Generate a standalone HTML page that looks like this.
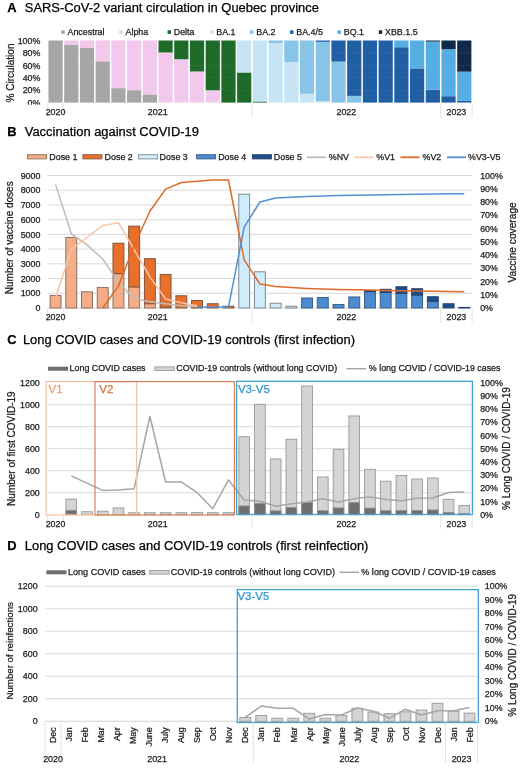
<!DOCTYPE html>
<html><head><meta charset="utf-8"><style>
html,body{margin:0;padding:0;background:#fff;}
body{width:520px;height:768px;overflow:hidden;}
svg{display:block;will-change:transform;font-family:"Liberation Sans", sans-serif;}
</style></head><body>
<svg width="520" height="768" viewBox="0 0 520 768">
<rect width="520" height="768" fill="#fff"/>
<text x="7.20" y="12.10" font-size="12.92" fill="#000" stroke="#000" stroke-width="0.25" font-weight="bold">A</text>
<text x="24.80" y="12.10" font-size="12.92" fill="#000" stroke="#000" stroke-width="0.25">SARS-CoV-2 variant circulation in Quebec province</text>
<rect x="61.30" y="30.30" width="3.40" height="3.60" fill="#a6a6a6"/>
<text x="67.50" y="35.29" font-size="8.9" fill="#1a1a1a" stroke="#1a1a1a" stroke-width="0.25">Ancestral</text>
<rect x="119.30" y="30.30" width="3.40" height="3.60" fill="#f2c8ec"/>
<text x="125.50" y="35.29" font-size="8.9" fill="#1a1a1a" stroke="#1a1a1a" stroke-width="0.25">Alpha</text>
<rect x="167.55" y="30.30" width="3.40" height="3.60" fill="#1d6a29"/>
<text x="173.75" y="35.29" font-size="8.9" fill="#1a1a1a" stroke="#1a1a1a" stroke-width="0.25">Delta</text>
<rect x="210.05" y="30.30" width="3.40" height="3.60" fill="#c7e4f5"/>
<text x="216.25" y="35.29" font-size="8.9" fill="#1a1a1a" stroke="#1a1a1a" stroke-width="0.25">BA.1</text>
<rect x="250.05" y="30.30" width="3.40" height="3.60" fill="#88c4e8"/>
<text x="256.25" y="35.29" font-size="8.9" fill="#1a1a1a" stroke="#1a1a1a" stroke-width="0.25">BA.2</text>
<rect x="290.05" y="30.30" width="3.40" height="3.60" fill="#205fa4"/>
<text x="296.25" y="35.29" font-size="8.9" fill="#1a1a1a" stroke="#1a1a1a" stroke-width="0.25">BA.4/5</text>
<rect x="337.55" y="30.30" width="3.40" height="3.60" fill="#54aee3"/>
<text x="343.75" y="35.29" font-size="8.9" fill="#1a1a1a" stroke="#1a1a1a" stroke-width="0.25">BQ.1</text>
<rect x="378.80" y="30.30" width="3.40" height="3.60" fill="#112a4b"/>
<text x="385.00" y="35.29" font-size="8.9" fill="#1a1a1a" stroke="#1a1a1a" stroke-width="0.25">XBB.1.5</text>
<text x="40.40" y="43.69" font-size="8.9" text-anchor="end" fill="#1a1a1a" stroke="#1a1a1a" stroke-width="0.25">100%</text>
<text x="40.40" y="56.11" font-size="8.9" text-anchor="end" fill="#1a1a1a" stroke="#1a1a1a" stroke-width="0.25">80%</text>
<text x="40.40" y="68.53" font-size="8.9" text-anchor="end" fill="#1a1a1a" stroke="#1a1a1a" stroke-width="0.25">60%</text>
<text x="40.40" y="80.95" font-size="8.9" text-anchor="end" fill="#1a1a1a" stroke="#1a1a1a" stroke-width="0.25">40%</text>
<text x="40.40" y="93.37" font-size="8.9" text-anchor="end" fill="#1a1a1a" stroke="#1a1a1a" stroke-width="0.25">20%</text>
<text x="40.40" y="105.79" font-size="8.9" text-anchor="end" fill="#1a1a1a" stroke="#1a1a1a" stroke-width="0.25">0%</text>
<text font-size="10" text-anchor="middle" fill="#1a1a1a" stroke="#1a1a1a" stroke-width="0.25" transform="translate(13.78,73.00) rotate(-90)">% Circulation</text>
<rect x="48.46" y="40.50" width="14.20" height="62.10" fill="#a6a6a6"/>
<rect x="64.18" y="44.97" width="14.20" height="57.63" fill="#a6a6a6"/>
<rect x="64.18" y="40.50" width="14.20" height="4.47" fill="#f2c8ec"/>
<rect x="79.90" y="48.01" width="14.20" height="54.59" fill="#a6a6a6"/>
<rect x="79.90" y="40.50" width="14.20" height="7.51" fill="#f2c8ec"/>
<rect x="95.62" y="61.24" width="14.20" height="41.36" fill="#a6a6a6"/>
<rect x="95.62" y="40.50" width="14.20" height="20.74" fill="#f2c8ec"/>
<rect x="111.34" y="88.13" width="14.20" height="14.47" fill="#a6a6a6"/>
<rect x="111.34" y="40.50" width="14.20" height="47.63" fill="#f2c8ec"/>
<rect x="127.06" y="90.18" width="14.20" height="12.42" fill="#a6a6a6"/>
<rect x="127.06" y="40.50" width="14.20" height="49.68" fill="#f2c8ec"/>
<rect x="142.78" y="94.40" width="14.20" height="8.20" fill="#a6a6a6"/>
<rect x="142.78" y="40.50" width="14.20" height="53.90" fill="#f2c8ec"/>
<rect x="158.50" y="52.49" width="14.20" height="50.11" fill="#f2c8ec"/>
<rect x="158.50" y="40.50" width="14.20" height="11.99" fill="#1d6a29"/>
<rect x="174.22" y="59.25" width="14.20" height="43.35" fill="#f2c8ec"/>
<rect x="174.22" y="40.50" width="14.20" height="18.75" fill="#1d6a29"/>
<rect x="189.94" y="71.49" width="14.20" height="31.11" fill="#f2c8ec"/>
<rect x="189.94" y="40.50" width="14.20" height="30.99" fill="#1d6a29"/>
<rect x="205.66" y="90.30" width="14.20" height="12.30" fill="#f2c8ec"/>
<rect x="205.66" y="40.50" width="14.20" height="49.80" fill="#1d6a29"/>
<rect x="221.38" y="40.50" width="14.20" height="62.10" fill="#1d6a29"/>
<rect x="237.10" y="72.48" width="14.20" height="30.12" fill="#1d6a29"/>
<rect x="237.10" y="40.50" width="14.20" height="31.98" fill="#c7e4f5"/>
<rect x="252.82" y="101.48" width="14.20" height="1.12" fill="#1d6a29"/>
<rect x="252.82" y="40.50" width="14.20" height="60.98" fill="#c7e4f5"/>
<rect x="268.54" y="42.98" width="14.20" height="59.62" fill="#c7e4f5"/>
<rect x="268.54" y="40.50" width="14.20" height="2.48" fill="#88c4e8"/>
<rect x="284.26" y="61.92" width="14.20" height="40.68" fill="#c7e4f5"/>
<rect x="284.26" y="40.50" width="14.20" height="21.42" fill="#88c4e8"/>
<rect x="299.98" y="93.78" width="14.20" height="8.82" fill="#c7e4f5"/>
<rect x="299.98" y="40.50" width="14.20" height="53.28" fill="#88c4e8"/>
<rect x="315.70" y="101.23" width="14.20" height="1.37" fill="#c7e4f5"/>
<rect x="315.70" y="41.87" width="14.20" height="59.37" fill="#88c4e8"/>
<rect x="315.70" y="40.50" width="14.20" height="1.37" fill="#205fa4"/>
<rect x="331.42" y="61.61" width="14.20" height="40.99" fill="#88c4e8"/>
<rect x="331.42" y="40.50" width="14.20" height="21.11" fill="#205fa4"/>
<rect x="347.14" y="95.89" width="14.20" height="6.71" fill="#88c4e8"/>
<rect x="347.14" y="40.50" width="14.20" height="55.39" fill="#205fa4"/>
<rect x="362.86" y="40.50" width="14.20" height="62.10" fill="#205fa4"/>
<rect x="378.58" y="40.50" width="14.20" height="62.10" fill="#205fa4"/>
<rect x="394.30" y="47.21" width="14.20" height="55.39" fill="#205fa4"/>
<rect x="394.30" y="40.50" width="14.20" height="6.71" fill="#54aee3"/>
<rect x="410.02" y="68.38" width="14.20" height="34.22" fill="#205fa4"/>
<rect x="410.02" y="40.50" width="14.20" height="27.88" fill="#54aee3"/>
<rect x="425.74" y="89.81" width="14.20" height="12.79" fill="#205fa4"/>
<rect x="425.74" y="41.62" width="14.20" height="48.19" fill="#54aee3"/>
<rect x="425.74" y="40.50" width="14.20" height="1.12" fill="#112a4b"/>
<rect x="441.46" y="96.20" width="14.20" height="6.40" fill="#205fa4"/>
<rect x="441.46" y="49.19" width="14.20" height="47.01" fill="#54aee3"/>
<rect x="441.46" y="40.50" width="14.20" height="8.69" fill="#112a4b"/>
<rect x="457.18" y="100.49" width="14.20" height="2.11" fill="#205fa4"/>
<rect x="457.18" y="71.67" width="14.20" height="28.81" fill="#54aee3"/>
<rect x="457.18" y="40.50" width="14.20" height="31.17" fill="#112a4b"/>
<line x1="47.70" y1="52.92" x2="472.14" y2="52.92" stroke="#ffffff" stroke-opacity="0.08" stroke-width="0.8"/>
<line x1="47.70" y1="65.34" x2="472.14" y2="65.34" stroke="#ffffff" stroke-opacity="0.08" stroke-width="0.8"/>
<line x1="47.70" y1="77.76" x2="472.14" y2="77.76" stroke="#ffffff" stroke-opacity="0.08" stroke-width="0.8"/>
<line x1="47.70" y1="90.18" x2="472.14" y2="90.18" stroke="#ffffff" stroke-opacity="0.08" stroke-width="0.8"/>
<rect x="15.00" y="104.70" width="30.00" height="4.00" fill="#fff"/>
<line x1="47.70" y1="103.10" x2="47.70" y2="117.50" stroke="#dcdcdc" stroke-width="0.8"/>
<line x1="63.42" y1="103.10" x2="63.42" y2="117.50" stroke="#dcdcdc" stroke-width="0.8"/>
<line x1="252.06" y1="103.10" x2="252.06" y2="117.50" stroke="#dcdcdc" stroke-width="0.8"/>
<line x1="440.70" y1="103.10" x2="440.70" y2="117.50" stroke="#dcdcdc" stroke-width="0.8"/>
<line x1="472.14" y1="103.10" x2="472.14" y2="117.50" stroke="#dcdcdc" stroke-width="0.8"/>
<text x="55.56" y="115.19" font-size="8.9" text-anchor="middle" fill="#1a1a1a" stroke="#1a1a1a" stroke-width="0.25">2020</text>
<text x="157.74" y="115.19" font-size="8.9" text-anchor="middle" fill="#1a1a1a" stroke="#1a1a1a" stroke-width="0.25">2021</text>
<text x="346.38" y="115.19" font-size="8.9" text-anchor="middle" fill="#1a1a1a" stroke="#1a1a1a" stroke-width="0.25">2022</text>
<text x="456.42" y="115.19" font-size="8.9" text-anchor="middle" fill="#1a1a1a" stroke="#1a1a1a" stroke-width="0.25">2023</text>
<text x="7.20" y="135.60" font-size="12.92" fill="#000" stroke="#000" stroke-width="0.25" font-weight="bold">B</text>
<text x="24.80" y="135.60" font-size="12.92" fill="#000" stroke="#000" stroke-width="0.25">Vaccination against COVID-19</text>
<rect x="27.60" y="154.70" width="19.00" height="4.20" fill="#f4ad86" stroke="#8e6f62" stroke-width="0.9"/>
<text x="49.30" y="159.79" font-size="8.9" fill="#1a1a1a" stroke="#1a1a1a" stroke-width="0.25">Dose 1</text>
<rect x="82.90" y="154.70" width="19.00" height="4.20" fill="#e8702b" stroke="#86543a" stroke-width="0.9"/>
<text x="104.60" y="159.79" font-size="8.9" fill="#1a1a1a" stroke="#1a1a1a" stroke-width="0.25">Dose 2</text>
<rect x="138.60" y="154.70" width="19.00" height="4.20" fill="#d0ebf9" stroke="#7f8a92" stroke-width="0.9"/>
<text x="159.60" y="159.79" font-size="8.9" fill="#1a1a1a" stroke="#1a1a1a" stroke-width="0.25">Dose 3</text>
<rect x="196.60" y="154.70" width="19.00" height="4.20" fill="#4a8bd2" stroke="#3d5f86" stroke-width="0.9"/>
<text x="218.20" y="159.79" font-size="8.9" fill="#1a1a1a" stroke="#1a1a1a" stroke-width="0.25">Dose 4</text>
<rect x="252.40" y="154.70" width="19.00" height="4.20" fill="#1f4e8c" stroke="#24406a" stroke-width="0.9"/>
<text x="273.80" y="159.79" font-size="8.9" fill="#1a1a1a" stroke="#1a1a1a" stroke-width="0.25">Dose 5</text>
<line x1="307.00" y1="157.30" x2="326.00" y2="157.30" stroke="#bdbdbd" stroke-width="1.8"/>
<text x="328.80" y="159.79" font-size="8.9" fill="#1a1a1a" stroke="#1a1a1a" stroke-width="0.25">%NV</text>
<line x1="354.50" y1="157.30" x2="373.50" y2="157.30" stroke="#f8c6a8" stroke-width="1.8"/>
<text x="376.30" y="159.79" font-size="8.9" fill="#1a1a1a" stroke="#1a1a1a" stroke-width="0.25">%V1</text>
<line x1="400.50" y1="157.30" x2="419.50" y2="157.30" stroke="#e06a2a" stroke-width="1.8"/>
<text x="422.50" y="159.79" font-size="8.9" fill="#1a1a1a" stroke="#1a1a1a" stroke-width="0.25">%V2</text>
<line x1="447.00" y1="157.30" x2="466.00" y2="157.30" stroke="#5190d2" stroke-width="1.8"/>
<text x="468.00" y="159.79" font-size="8.9" fill="#1a1a1a" stroke="#1a1a1a" stroke-width="0.25">%V3-V5</text>
<text x="40.40" y="311.19" font-size="8.9" text-anchor="end" fill="#1a1a1a" stroke="#1a1a1a" stroke-width="0.25">0</text>
<line x1="47.70" y1="293.28" x2="472.14" y2="293.28" stroke="#d9d9d9" stroke-width="1"/>
<text x="40.40" y="296.47" font-size="8.9" text-anchor="end" fill="#1a1a1a" stroke="#1a1a1a" stroke-width="0.25">1000</text>
<line x1="47.70" y1="278.56" x2="472.14" y2="278.56" stroke="#d9d9d9" stroke-width="1"/>
<text x="40.40" y="281.75" font-size="8.9" text-anchor="end" fill="#1a1a1a" stroke="#1a1a1a" stroke-width="0.25">2000</text>
<line x1="47.70" y1="263.84" x2="472.14" y2="263.84" stroke="#d9d9d9" stroke-width="1"/>
<text x="40.40" y="267.03" font-size="8.9" text-anchor="end" fill="#1a1a1a" stroke="#1a1a1a" stroke-width="0.25">3000</text>
<line x1="47.70" y1="249.12" x2="472.14" y2="249.12" stroke="#d9d9d9" stroke-width="1"/>
<text x="40.40" y="252.31" font-size="8.9" text-anchor="end" fill="#1a1a1a" stroke="#1a1a1a" stroke-width="0.25">4000</text>
<line x1="47.70" y1="234.40" x2="472.14" y2="234.40" stroke="#d9d9d9" stroke-width="1"/>
<text x="40.40" y="237.59" font-size="8.9" text-anchor="end" fill="#1a1a1a" stroke="#1a1a1a" stroke-width="0.25">5000</text>
<line x1="47.70" y1="219.68" x2="472.14" y2="219.68" stroke="#d9d9d9" stroke-width="1"/>
<text x="40.40" y="222.87" font-size="8.9" text-anchor="end" fill="#1a1a1a" stroke="#1a1a1a" stroke-width="0.25">6000</text>
<line x1="47.70" y1="204.96" x2="472.14" y2="204.96" stroke="#d9d9d9" stroke-width="1"/>
<text x="40.40" y="208.15" font-size="8.9" text-anchor="end" fill="#1a1a1a" stroke="#1a1a1a" stroke-width="0.25">7000</text>
<line x1="47.70" y1="190.24" x2="472.14" y2="190.24" stroke="#d9d9d9" stroke-width="1"/>
<text x="40.40" y="193.43" font-size="8.9" text-anchor="end" fill="#1a1a1a" stroke="#1a1a1a" stroke-width="0.25">8000</text>
<line x1="47.70" y1="175.52" x2="472.14" y2="175.52" stroke="#d9d9d9" stroke-width="1"/>
<text x="40.40" y="178.71" font-size="8.9" text-anchor="end" fill="#1a1a1a" stroke="#1a1a1a" stroke-width="0.25">9000</text>
<line x1="47.70" y1="308.00" x2="472.14" y2="308.00" stroke="#d9d9d9" stroke-width="1"/>
<text x="480.20" y="311.19" font-size="8.9" fill="#1a1a1a" stroke="#1a1a1a" stroke-width="0.25">0%</text>
<text x="480.20" y="297.94" font-size="8.9" fill="#1a1a1a" stroke="#1a1a1a" stroke-width="0.25">10%</text>
<text x="480.20" y="284.69" font-size="8.9" fill="#1a1a1a" stroke="#1a1a1a" stroke-width="0.25">20%</text>
<text x="480.20" y="271.44" font-size="8.9" fill="#1a1a1a" stroke="#1a1a1a" stroke-width="0.25">30%</text>
<text x="480.20" y="258.19" font-size="8.9" fill="#1a1a1a" stroke="#1a1a1a" stroke-width="0.25">40%</text>
<text x="480.20" y="244.94" font-size="8.9" fill="#1a1a1a" stroke="#1a1a1a" stroke-width="0.25">50%</text>
<text x="480.20" y="231.69" font-size="8.9" fill="#1a1a1a" stroke="#1a1a1a" stroke-width="0.25">60%</text>
<text x="480.20" y="218.44" font-size="8.9" fill="#1a1a1a" stroke="#1a1a1a" stroke-width="0.25">70%</text>
<text x="480.20" y="205.19" font-size="8.9" fill="#1a1a1a" stroke="#1a1a1a" stroke-width="0.25">80%</text>
<text x="480.20" y="191.94" font-size="8.9" fill="#1a1a1a" stroke="#1a1a1a" stroke-width="0.25">90%</text>
<text x="480.20" y="178.69" font-size="8.9" fill="#1a1a1a" stroke="#1a1a1a" stroke-width="0.25">100%</text>
<text font-size="10" text-anchor="middle" fill="#1a1a1a" stroke="#1a1a1a" stroke-width="0.25" transform="translate(12.98,237.75) rotate(-90)">Number of vaccine doses</text>
<text font-size="10.2" text-anchor="middle" fill="#1a1a1a" stroke="#1a1a1a" stroke-width="0.25" transform="translate(516.15,242.40) rotate(-90)">Vaccine coverage</text>
<rect x="50.11" y="295.49" width="10.90" height="12.51" fill="#f4ad86" stroke="#8e6f62" stroke-width="1.0"/>
<rect x="65.83" y="237.49" width="10.90" height="70.51" fill="#f4ad86" stroke="#8e6f62" stroke-width="1.0"/>
<rect x="81.55" y="291.81" width="10.90" height="16.19" fill="#f4ad86" stroke="#8e6f62" stroke-width="1.0"/>
<rect x="97.27" y="287.54" width="10.90" height="20.46" fill="#f4ad86" stroke="#8e6f62" stroke-width="1.0"/>
<rect x="112.99" y="273.70" width="10.90" height="34.30" fill="#f4ad86" stroke="#8e6f62" stroke-width="1.0"/>
<rect x="112.99" y="243.23" width="10.90" height="30.47" fill="#e8702b" stroke="#86543a" stroke-width="1.0"/>
<rect x="128.71" y="286.95" width="10.90" height="21.05" fill="#f4ad86" stroke="#8e6f62" stroke-width="1.0"/>
<rect x="128.71" y="226.16" width="10.90" height="60.79" fill="#e8702b" stroke="#86543a" stroke-width="1.0"/>
<rect x="144.43" y="303.73" width="10.90" height="4.27" fill="#f4ad86" stroke="#8e6f62" stroke-width="1.0"/>
<rect x="144.43" y="258.69" width="10.90" height="45.04" fill="#e8702b" stroke="#86543a" stroke-width="1.0"/>
<rect x="160.15" y="307.12" width="10.90" height="0.88" fill="#f4ad86" stroke="#8e6f62" stroke-width="1.0"/>
<rect x="160.15" y="274.44" width="10.90" height="32.68" fill="#e8702b" stroke="#86543a" stroke-width="1.0"/>
<rect x="175.87" y="295.78" width="10.90" height="12.22" fill="#e8702b" stroke="#86543a" stroke-width="1.0"/>
<rect x="191.59" y="300.49" width="10.90" height="7.51" fill="#e8702b" stroke="#86543a" stroke-width="1.0"/>
<rect x="207.31" y="303.73" width="10.90" height="4.27" fill="#e8702b" stroke="#86543a" stroke-width="1.0"/>
<rect x="223.03" y="306.23" width="10.90" height="1.77" fill="#e8702b" stroke="#86543a" stroke-width="1.0"/>
<rect x="238.75" y="194.21" width="10.90" height="113.79" fill="#d0ebf9" stroke="#7f8a92" stroke-width="1.0"/>
<rect x="254.47" y="271.79" width="10.90" height="36.21" fill="#d0ebf9" stroke="#7f8a92" stroke-width="1.0"/>
<rect x="270.19" y="303.29" width="10.90" height="4.71" fill="#d0ebf9" stroke="#7f8a92" stroke-width="1.0"/>
<rect x="285.91" y="306.23" width="10.90" height="1.77" fill="#d0ebf9" stroke="#7f8a92" stroke-width="1.0"/>
<rect x="301.63" y="297.99" width="10.90" height="10.01" fill="#4a8bd2" stroke="#3d5f86" stroke-width="1.0"/>
<rect x="317.35" y="297.55" width="10.90" height="10.45" fill="#4a8bd2" stroke="#3d5f86" stroke-width="1.0"/>
<rect x="333.07" y="304.47" width="10.90" height="3.53" fill="#4a8bd2" stroke="#3d5f86" stroke-width="1.0"/>
<rect x="348.79" y="296.96" width="10.90" height="11.04" fill="#4a8bd2" stroke="#3d5f86" stroke-width="1.0"/>
<rect x="364.51" y="291.66" width="10.90" height="16.34" fill="#4a8bd2" stroke="#3d5f86" stroke-width="1.0"/>
<rect x="364.51" y="290.48" width="10.90" height="1.18" fill="#1f4e8c" stroke="#24406a" stroke-width="1.0"/>
<rect x="380.23" y="292.50" width="10.90" height="15.50" fill="#4a8bd2" stroke="#3d5f86" stroke-width="1.0"/>
<rect x="380.23" y="289.31" width="10.90" height="3.19" fill="#1f4e8c" stroke="#24406a" stroke-width="1.0"/>
<rect x="395.95" y="293.25" width="10.90" height="14.75" fill="#4a8bd2" stroke="#3d5f86" stroke-width="1.0"/>
<rect x="395.95" y="286.74" width="10.90" height="6.51" fill="#1f4e8c" stroke="#24406a" stroke-width="1.0"/>
<rect x="411.67" y="295.00" width="10.90" height="13.00" fill="#4a8bd2" stroke="#3d5f86" stroke-width="1.0"/>
<rect x="411.67" y="288.75" width="10.90" height="6.26" fill="#1f4e8c" stroke="#24406a" stroke-width="1.0"/>
<rect x="427.39" y="301.26" width="10.90" height="6.74" fill="#4a8bd2" stroke="#3d5f86" stroke-width="1.0"/>
<rect x="427.39" y="296.75" width="10.90" height="4.50" fill="#1f4e8c" stroke="#24406a" stroke-width="1.0"/>
<rect x="443.11" y="307.00" width="10.90" height="1.00" fill="#4a8bd2" stroke="#3d5f86" stroke-width="1.0"/>
<rect x="443.11" y="303.75" width="10.90" height="3.25" fill="#1f4e8c" stroke="#24406a" stroke-width="1.0"/>
<rect x="458.83" y="307.41" width="10.90" height="0.59" fill="#1f4e8c" stroke="#24406a" stroke-width="1.0"/>
<polyline points="55.56,184.38 71.28,233.80 87.00,244.93 102.72,258.98 118.44,282.16 134.16,298.46 149.88,301.64 165.60,303.76 181.32,305.75 197.04,306.41" fill="none" stroke="#bdbdbd" stroke-width="1.5" stroke-linejoin="round" stroke-linecap="butt"/>
<polyline points="55.56,298.06 71.28,249.04 87.00,237.51 102.72,225.45 118.44,222.67 134.16,249.70 149.88,276.86 165.60,298.99 181.32,302.70 197.04,305.75" fill="none" stroke="#f8c6a8" stroke-width="1.5" stroke-linejoin="round" stroke-linecap="butt"/>
<polyline points="102.72,308.00 118.44,286.14 134.16,245.72 149.88,211.28 165.60,189.15 181.32,182.52 197.04,181.20 212.76,180.00 228.48,180.00 244.20,259.90 259.92,284.02 275.64,286.54 291.36,287.46 307.08,288.39 322.80,289.05 338.52,289.45 354.24,289.85 369.96,290.11 385.68,290.38 401.40,290.64 417.12,290.91 432.84,291.17 448.56,291.44 464.28,291.70" fill="none" stroke="#e06a2a" stroke-width="1.5" stroke-linejoin="round" stroke-linecap="butt"/>
<polyline points="197.04,307.07 212.76,307.07 228.48,307.07 244.20,227.18 259.92,202.00 275.64,198.03 291.36,197.23 307.08,196.44 322.80,195.91 338.52,195.51 354.24,195.24 369.96,194.98 385.68,194.71 401.40,194.58 417.12,194.31 432.84,194.05 448.56,193.78 464.28,193.65" fill="none" stroke="#5190d2" stroke-width="1.5" stroke-linejoin="round" stroke-linecap="butt"/>
<line x1="47.70" y1="308.50" x2="47.70" y2="322.50" stroke="#dcdcdc" stroke-width="0.8"/>
<line x1="63.42" y1="308.50" x2="63.42" y2="322.50" stroke="#dcdcdc" stroke-width="0.8"/>
<line x1="252.06" y1="308.50" x2="252.06" y2="322.50" stroke="#dcdcdc" stroke-width="0.8"/>
<line x1="440.70" y1="308.50" x2="440.70" y2="322.50" stroke="#dcdcdc" stroke-width="0.8"/>
<line x1="472.14" y1="308.50" x2="472.14" y2="322.50" stroke="#dcdcdc" stroke-width="0.8"/>
<text x="55.56" y="320.19" font-size="8.9" text-anchor="middle" fill="#1a1a1a" stroke="#1a1a1a" stroke-width="0.25">2020</text>
<text x="157.74" y="320.19" font-size="8.9" text-anchor="middle" fill="#1a1a1a" stroke="#1a1a1a" stroke-width="0.25">2021</text>
<text x="346.38" y="320.19" font-size="8.9" text-anchor="middle" fill="#1a1a1a" stroke="#1a1a1a" stroke-width="0.25">2022</text>
<text x="456.42" y="320.19" font-size="8.9" text-anchor="middle" fill="#1a1a1a" stroke="#1a1a1a" stroke-width="0.25">2023</text>
<text x="7.20" y="343.80" font-size="12.92" fill="#000" stroke="#000" stroke-width="0.25" font-weight="bold">C</text>
<text x="22.90" y="343.80" font-size="12.92" fill="#000" stroke="#000" stroke-width="0.25">Long COVID cases and COVID-19 controls (first infection)</text>
<rect x="48.00" y="366.70" width="20.20" height="4.00" fill="#6f6f6f"/>
<text x="69.60" y="371.39" font-size="8.9" fill="#1a1a1a" stroke="#1a1a1a" stroke-width="0.25">Long COVID cases</text>
<rect x="154.90" y="366.90" width="19.40" height="3.60" fill="#d4d4d4" stroke="#8f8f8f" stroke-width="0.8"/>
<text x="176.30" y="371.39" font-size="8.9" fill="#1a1a1a" stroke="#1a1a1a" stroke-width="0.25">COVID-19 controls (without long COVID)</text>
<line x1="346.50" y1="368.70" x2="366.00" y2="368.70" stroke="#a6a6a6" stroke-width="1.5"/>
<text x="368.80" y="371.39" font-size="8.9" fill="#1a1a1a" stroke="#1a1a1a" stroke-width="0.25">% long COVID / COVID-19 cases</text>
<text x="39.80" y="517.89" font-size="8.9" text-anchor="end" fill="#1a1a1a" stroke="#1a1a1a" stroke-width="0.25">0</text>
<line x1="47.70" y1="492.70" x2="472.14" y2="492.70" stroke="#d9d9d9" stroke-width="1"/>
<text x="39.80" y="495.89" font-size="8.9" text-anchor="end" fill="#1a1a1a" stroke="#1a1a1a" stroke-width="0.25">200</text>
<line x1="47.70" y1="470.70" x2="472.14" y2="470.70" stroke="#d9d9d9" stroke-width="1"/>
<text x="39.80" y="473.89" font-size="8.9" text-anchor="end" fill="#1a1a1a" stroke="#1a1a1a" stroke-width="0.25">400</text>
<line x1="47.70" y1="448.70" x2="472.14" y2="448.70" stroke="#d9d9d9" stroke-width="1"/>
<text x="39.80" y="451.89" font-size="8.9" text-anchor="end" fill="#1a1a1a" stroke="#1a1a1a" stroke-width="0.25">600</text>
<line x1="47.70" y1="426.70" x2="472.14" y2="426.70" stroke="#d9d9d9" stroke-width="1"/>
<text x="39.80" y="429.89" font-size="8.9" text-anchor="end" fill="#1a1a1a" stroke="#1a1a1a" stroke-width="0.25">800</text>
<line x1="47.70" y1="404.70" x2="472.14" y2="404.70" stroke="#d9d9d9" stroke-width="1"/>
<text x="39.80" y="407.89" font-size="8.9" text-anchor="end" fill="#1a1a1a" stroke="#1a1a1a" stroke-width="0.25">1000</text>
<text x="39.80" y="385.89" font-size="8.9" text-anchor="end" fill="#1a1a1a" stroke="#1a1a1a" stroke-width="0.25">1200</text>
<text x="480.20" y="517.89" font-size="8.9" fill="#1a1a1a" stroke="#1a1a1a" stroke-width="0.25">0%</text>
<text x="480.20" y="504.69" font-size="8.9" fill="#1a1a1a" stroke="#1a1a1a" stroke-width="0.25">10%</text>
<text x="480.20" y="491.49" font-size="8.9" fill="#1a1a1a" stroke="#1a1a1a" stroke-width="0.25">20%</text>
<text x="480.20" y="478.29" font-size="8.9" fill="#1a1a1a" stroke="#1a1a1a" stroke-width="0.25">30%</text>
<text x="480.20" y="465.09" font-size="8.9" fill="#1a1a1a" stroke="#1a1a1a" stroke-width="0.25">40%</text>
<text x="480.20" y="451.89" font-size="8.9" fill="#1a1a1a" stroke="#1a1a1a" stroke-width="0.25">50%</text>
<text x="480.20" y="438.69" font-size="8.9" fill="#1a1a1a" stroke="#1a1a1a" stroke-width="0.25">60%</text>
<text x="480.20" y="425.49" font-size="8.9" fill="#1a1a1a" stroke="#1a1a1a" stroke-width="0.25">70%</text>
<text x="480.20" y="412.29" font-size="8.9" fill="#1a1a1a" stroke="#1a1a1a" stroke-width="0.25">80%</text>
<text x="480.20" y="399.09" font-size="8.9" fill="#1a1a1a" stroke="#1a1a1a" stroke-width="0.25">90%</text>
<text x="480.20" y="385.89" font-size="8.9" fill="#1a1a1a" stroke="#1a1a1a" stroke-width="0.25">100%</text>
<text font-size="10" text-anchor="middle" fill="#1a1a1a" stroke="#1a1a1a" stroke-width="0.25" transform="translate(14.58,448.65) rotate(-90)">Number of first COVID-19</text>
<text font-size="10" text-anchor="middle" fill="#1a1a1a" stroke="#1a1a1a" stroke-width="0.25" transform="translate(510.38,448.50) rotate(-90)">% Long COVID / COVID-19</text>
<rect x="65.93" y="499.08" width="10.70" height="15.62" fill="#d4d4d4" stroke="#8f8f8f" stroke-width="0.8"/>
<rect x="65.93" y="510.30" width="10.70" height="4.40" fill="#6f6f6f" stroke="#8f8f8f" stroke-width="0.8"/>
<rect x="81.65" y="511.73" width="10.70" height="2.97" fill="#d4d4d4" stroke="#8f8f8f" stroke-width="0.8"/>
<rect x="97.37" y="511.18" width="10.70" height="3.52" fill="#d4d4d4" stroke="#8f8f8f" stroke-width="0.8"/>
<rect x="113.09" y="507.88" width="10.70" height="6.82" fill="#d4d4d4" stroke="#8f8f8f" stroke-width="0.8"/>
<rect x="128.81" y="512.72" width="10.70" height="1.98" fill="#d4d4d4" stroke="#8f8f8f" stroke-width="0.8"/>
<rect x="144.53" y="512.72" width="10.70" height="1.98" fill="#d4d4d4" stroke="#8f8f8f" stroke-width="0.8"/>
<rect x="160.25" y="512.72" width="10.70" height="1.98" fill="#d4d4d4" stroke="#8f8f8f" stroke-width="0.8"/>
<rect x="175.97" y="512.72" width="10.70" height="1.98" fill="#d4d4d4" stroke="#8f8f8f" stroke-width="0.8"/>
<rect x="191.69" y="512.50" width="10.70" height="2.20" fill="#d4d4d4" stroke="#8f8f8f" stroke-width="0.8"/>
<rect x="207.41" y="512.72" width="10.70" height="1.98" fill="#d4d4d4" stroke="#8f8f8f" stroke-width="0.8"/>
<rect x="223.13" y="512.72" width="10.70" height="1.98" fill="#d4d4d4" stroke="#8f8f8f" stroke-width="0.8"/>
<rect x="238.85" y="436.71" width="10.70" height="77.99" fill="#d4d4d4" stroke="#8f8f8f" stroke-width="0.8"/>
<rect x="238.85" y="505.90" width="10.70" height="8.80" fill="#6f6f6f" stroke="#8f8f8f" stroke-width="0.8"/>
<rect x="254.57" y="404.26" width="10.70" height="110.44" fill="#d4d4d4" stroke="#8f8f8f" stroke-width="0.8"/>
<rect x="254.57" y="503.37" width="10.70" height="11.33" fill="#6f6f6f" stroke="#8f8f8f" stroke-width="0.8"/>
<rect x="270.29" y="458.93" width="10.70" height="55.77" fill="#d4d4d4" stroke="#8f8f8f" stroke-width="0.8"/>
<rect x="270.29" y="510.85" width="10.70" height="3.85" fill="#6f6f6f" stroke="#8f8f8f" stroke-width="0.8"/>
<rect x="286.01" y="439.24" width="10.70" height="75.46" fill="#d4d4d4" stroke="#8f8f8f" stroke-width="0.8"/>
<rect x="286.01" y="507.44" width="10.70" height="7.26" fill="#6f6f6f" stroke="#8f8f8f" stroke-width="0.8"/>
<rect x="301.73" y="386.00" width="10.70" height="128.70" fill="#d4d4d4" stroke="#8f8f8f" stroke-width="0.8"/>
<rect x="301.73" y="502.38" width="10.70" height="12.32" fill="#6f6f6f" stroke="#8f8f8f" stroke-width="0.8"/>
<rect x="317.45" y="476.97" width="10.70" height="37.73" fill="#d4d4d4" stroke="#8f8f8f" stroke-width="0.8"/>
<rect x="317.45" y="510.74" width="10.70" height="3.96" fill="#6f6f6f" stroke="#8f8f8f" stroke-width="0.8"/>
<rect x="333.17" y="449.25" width="10.70" height="65.45" fill="#d4d4d4" stroke="#8f8f8f" stroke-width="0.8"/>
<rect x="333.17" y="507.88" width="10.70" height="6.82" fill="#6f6f6f" stroke="#8f8f8f" stroke-width="0.8"/>
<rect x="348.89" y="415.92" width="10.70" height="98.78" fill="#d4d4d4" stroke="#8f8f8f" stroke-width="0.8"/>
<rect x="348.89" y="502.60" width="10.70" height="12.10" fill="#6f6f6f" stroke="#8f8f8f" stroke-width="0.8"/>
<rect x="364.61" y="469.27" width="10.70" height="45.43" fill="#d4d4d4" stroke="#8f8f8f" stroke-width="0.8"/>
<rect x="364.61" y="508.10" width="10.70" height="6.60" fill="#6f6f6f" stroke="#8f8f8f" stroke-width="0.8"/>
<rect x="380.33" y="481.15" width="10.70" height="33.55" fill="#d4d4d4" stroke="#8f8f8f" stroke-width="0.8"/>
<rect x="380.33" y="510.74" width="10.70" height="3.96" fill="#6f6f6f" stroke="#8f8f8f" stroke-width="0.8"/>
<rect x="396.05" y="475.43" width="10.70" height="39.27" fill="#d4d4d4" stroke="#8f8f8f" stroke-width="0.8"/>
<rect x="396.05" y="510.52" width="10.70" height="4.18" fill="#6f6f6f" stroke="#8f8f8f" stroke-width="0.8"/>
<rect x="411.77" y="478.95" width="10.70" height="35.75" fill="#d4d4d4" stroke="#8f8f8f" stroke-width="0.8"/>
<rect x="411.77" y="510.52" width="10.70" height="4.18" fill="#6f6f6f" stroke="#8f8f8f" stroke-width="0.8"/>
<rect x="427.49" y="477.96" width="10.70" height="36.74" fill="#d4d4d4" stroke="#8f8f8f" stroke-width="0.8"/>
<rect x="427.49" y="509.97" width="10.70" height="4.73" fill="#6f6f6f" stroke="#8f8f8f" stroke-width="0.8"/>
<rect x="443.21" y="499.30" width="10.70" height="15.40" fill="#d4d4d4" stroke="#8f8f8f" stroke-width="0.8"/>
<rect x="443.21" y="512.50" width="10.70" height="2.20" fill="#6f6f6f" stroke="#8f8f8f" stroke-width="0.8"/>
<rect x="458.93" y="505.46" width="10.70" height="9.24" fill="#d4d4d4" stroke="#8f8f8f" stroke-width="0.8"/>
<rect x="458.93" y="513.60" width="10.70" height="1.10" fill="#6f6f6f" stroke="#8f8f8f" stroke-width="0.8"/>
<polyline points="71.28,475.89 87.00,483.15 102.72,490.41 118.44,490.02 134.16,488.70 149.88,416.23 165.60,481.96 181.32,481.96 197.04,492.52 212.76,508.76 228.48,479.98 244.20,499.92 259.92,501.24 275.64,506.25 291.36,503.74 307.08,502.03 322.80,498.73 338.52,502.03 354.24,498.73 369.96,496.88 385.68,499.39 401.40,500.71 417.12,498.20 432.84,497.94 448.56,492.52 464.28,492.00" fill="none" stroke="#a6a6a6" stroke-width="1.5" stroke-linejoin="round" stroke-linecap="butt"/>
<line x1="47.70" y1="515.20" x2="47.70" y2="528.50" stroke="#dcdcdc" stroke-width="0.8"/>
<line x1="63.42" y1="515.20" x2="63.42" y2="528.50" stroke="#dcdcdc" stroke-width="0.8"/>
<line x1="252.06" y1="515.20" x2="252.06" y2="528.50" stroke="#dcdcdc" stroke-width="0.8"/>
<line x1="440.70" y1="515.20" x2="440.70" y2="528.50" stroke="#dcdcdc" stroke-width="0.8"/>
<line x1="472.14" y1="515.20" x2="472.14" y2="528.50" stroke="#dcdcdc" stroke-width="0.8"/>
<text x="55.56" y="527.49" font-size="8.9" text-anchor="middle" fill="#1a1a1a" stroke="#1a1a1a" stroke-width="0.25">2020</text>
<text x="157.74" y="527.49" font-size="8.9" text-anchor="middle" fill="#1a1a1a" stroke="#1a1a1a" stroke-width="0.25">2021</text>
<text x="346.38" y="527.49" font-size="8.9" text-anchor="middle" fill="#1a1a1a" stroke="#1a1a1a" stroke-width="0.25">2022</text>
<text x="456.42" y="527.49" font-size="8.9" text-anchor="middle" fill="#1a1a1a" stroke="#1a1a1a" stroke-width="0.25">2023</text>
<rect x="46.2" y="381.6" width="90.4" height="133.4" fill="none" stroke="#f5c4a8" stroke-width="1.3"/>
<rect x="95.0" y="381.6" width="139.4" height="133.4" fill="none" stroke="#d97e52" stroke-width="1.15"/>
<rect x="236.6" y="381.3" width="235.8" height="133.2" fill="none" stroke="#3fa3d0" stroke-width="1.3"/>
<text x="48.50" y="393.20" font-size="11.5" fill="#ee9a70" stroke="#ee9a70" stroke-width="0.25">V1</text>
<text x="99.30" y="393.30" font-size="11.5" fill="#d6733d" stroke="#d6733d" stroke-width="0.25">V2</text>
<text x="237.90" y="393.10" font-size="11.5" fill="#2f96cc" stroke="#2f96cc" stroke-width="0.25">V3-V5</text>
<text x="7.20" y="550.10" font-size="12.92" fill="#000" stroke="#000" stroke-width="0.25" font-weight="bold">D</text>
<text x="24.80" y="550.10" font-size="12.92" fill="#000" stroke="#000" stroke-width="0.25">Long COVID cases and COVID-19 controls (first reinfection)</text>
<rect x="46.30" y="570.30" width="20.20" height="4.00" fill="#6f6f6f"/>
<text x="68.00" y="574.65" font-size="9.07" fill="#1a1a1a" stroke="#1a1a1a" stroke-width="0.25">Long COVID cases</text>
<rect x="149.70" y="570.50" width="19.40" height="3.60" fill="#d4d4d4" stroke="#8f8f8f" stroke-width="0.8"/>
<text x="170.80" y="574.65" font-size="9.07" fill="#1a1a1a" stroke="#1a1a1a" stroke-width="0.25">COVID-19 controls (without long COVID)</text>
<line x1="339.50" y1="572.30" x2="359.00" y2="572.30" stroke="#a6a6a6" stroke-width="1.5"/>
<text x="361.30" y="574.65" font-size="9.07" fill="#1a1a1a" stroke="#1a1a1a" stroke-width="0.25">% long COVID / COVID-19 cases</text>
<text x="37.60" y="724.44" font-size="8.9" text-anchor="end" fill="#1a1a1a" stroke="#1a1a1a" stroke-width="0.25">0</text>
<line x1="45.00" y1="698.75" x2="477.54" y2="698.75" stroke="#d9d9d9" stroke-width="1"/>
<text x="37.60" y="701.94" font-size="8.9" text-anchor="end" fill="#1a1a1a" stroke="#1a1a1a" stroke-width="0.25">200</text>
<line x1="45.00" y1="676.25" x2="477.54" y2="676.25" stroke="#d9d9d9" stroke-width="1"/>
<text x="37.60" y="679.44" font-size="8.9" text-anchor="end" fill="#1a1a1a" stroke="#1a1a1a" stroke-width="0.25">400</text>
<line x1="45.00" y1="653.75" x2="477.54" y2="653.75" stroke="#d9d9d9" stroke-width="1"/>
<text x="37.60" y="656.94" font-size="8.9" text-anchor="end" fill="#1a1a1a" stroke="#1a1a1a" stroke-width="0.25">600</text>
<line x1="45.00" y1="631.25" x2="477.54" y2="631.25" stroke="#d9d9d9" stroke-width="1"/>
<text x="37.60" y="634.44" font-size="8.9" text-anchor="end" fill="#1a1a1a" stroke="#1a1a1a" stroke-width="0.25">800</text>
<line x1="45.00" y1="608.75" x2="477.54" y2="608.75" stroke="#d9d9d9" stroke-width="1"/>
<text x="37.60" y="611.94" font-size="8.9" text-anchor="end" fill="#1a1a1a" stroke="#1a1a1a" stroke-width="0.25">1000</text>
<line x1="45.00" y1="586.25" x2="477.54" y2="586.25" stroke="#d9d9d9" stroke-width="1"/>
<text x="37.60" y="589.44" font-size="8.9" text-anchor="end" fill="#1a1a1a" stroke="#1a1a1a" stroke-width="0.25">1200</text>
<line x1="45.00" y1="721.25" x2="477.54" y2="721.25" stroke="#d0d0d0" stroke-width="1"/>
<text x="484.80" y="724.44" font-size="8.9" fill="#1a1a1a" stroke="#1a1a1a" stroke-width="0.25">0%</text>
<text x="484.80" y="710.94" font-size="8.9" fill="#1a1a1a" stroke="#1a1a1a" stroke-width="0.25">10%</text>
<text x="484.80" y="697.44" font-size="8.9" fill="#1a1a1a" stroke="#1a1a1a" stroke-width="0.25">20%</text>
<text x="484.80" y="683.94" font-size="8.9" fill="#1a1a1a" stroke="#1a1a1a" stroke-width="0.25">30%</text>
<text x="484.80" y="670.44" font-size="8.9" fill="#1a1a1a" stroke="#1a1a1a" stroke-width="0.25">40%</text>
<text x="484.80" y="656.94" font-size="8.9" fill="#1a1a1a" stroke="#1a1a1a" stroke-width="0.25">50%</text>
<text x="484.80" y="643.44" font-size="8.9" fill="#1a1a1a" stroke="#1a1a1a" stroke-width="0.25">60%</text>
<text x="484.80" y="629.94" font-size="8.9" fill="#1a1a1a" stroke="#1a1a1a" stroke-width="0.25">70%</text>
<text x="484.80" y="616.44" font-size="8.9" fill="#1a1a1a" stroke="#1a1a1a" stroke-width="0.25">80%</text>
<text x="484.80" y="602.94" font-size="8.9" fill="#1a1a1a" stroke="#1a1a1a" stroke-width="0.25">90%</text>
<text x="484.80" y="589.44" font-size="8.9" fill="#1a1a1a" stroke="#1a1a1a" stroke-width="0.25">100%</text>
<text font-size="9.7" text-anchor="middle" fill="#1a1a1a" stroke="#1a1a1a" stroke-width="0.25" transform="translate(12.97,650.80) rotate(-90)">Number of reinfections</text>
<text font-size="10" text-anchor="middle" fill="#1a1a1a" stroke="#1a1a1a" stroke-width="0.25" transform="translate(516.38,655.30) rotate(-90)">% Long COVID / COVID-19</text>
<rect x="239.80" y="717.54" width="10.90" height="3.71" fill="#d4d4d4" stroke="#8f8f8f" stroke-width="0.8"/>
<rect x="255.82" y="715.51" width="10.90" height="5.74" fill="#d4d4d4" stroke="#8f8f8f" stroke-width="0.8"/>
<rect x="271.84" y="718.21" width="10.90" height="3.04" fill="#d4d4d4" stroke="#8f8f8f" stroke-width="0.8"/>
<rect x="287.86" y="718.21" width="10.90" height="3.04" fill="#d4d4d4" stroke="#8f8f8f" stroke-width="0.8"/>
<rect x="303.88" y="713.26" width="10.90" height="7.99" fill="#d4d4d4" stroke="#8f8f8f" stroke-width="0.8"/>
<rect x="319.90" y="718.21" width="10.90" height="3.04" fill="#d4d4d4" stroke="#8f8f8f" stroke-width="0.8"/>
<rect x="335.92" y="715.51" width="10.90" height="5.74" fill="#d4d4d4" stroke="#8f8f8f" stroke-width="0.8"/>
<rect x="351.94" y="708.20" width="10.90" height="13.05" fill="#d4d4d4" stroke="#8f8f8f" stroke-width="0.8"/>
<rect x="367.96" y="712.02" width="10.90" height="9.22" fill="#d4d4d4" stroke="#8f8f8f" stroke-width="0.8"/>
<rect x="383.98" y="713.71" width="10.90" height="7.54" fill="#d4d4d4" stroke="#8f8f8f" stroke-width="0.8"/>
<rect x="400.00" y="711.80" width="10.90" height="9.45" fill="#d4d4d4" stroke="#8f8f8f" stroke-width="0.8"/>
<rect x="416.02" y="710.00" width="10.90" height="11.25" fill="#d4d4d4" stroke="#8f8f8f" stroke-width="0.8"/>
<rect x="432.04" y="703.25" width="10.90" height="18.00" fill="#d4d4d4" stroke="#8f8f8f" stroke-width="0.8"/>
<rect x="448.06" y="711.24" width="10.90" height="10.01" fill="#d4d4d4" stroke="#8f8f8f" stroke-width="0.8"/>
<rect x="464.08" y="713.04" width="10.90" height="8.21" fill="#d4d4d4" stroke="#8f8f8f" stroke-width="0.8"/>
<polyline points="245.25,717.47 261.27,706.00 277.29,708.29 293.31,708.29 309.33,719.09 325.35,714.50 341.37,715.04 357.39,708.02 373.41,711.26 389.43,718.28 405.45,709.24 421.47,715.04 437.49,710.72 453.51,710.72 469.53,707.48" fill="none" stroke="#a6a6a6" stroke-width="1.5" stroke-linejoin="round" stroke-linecap="butt"/>
<rect x="237.3" y="589.6" width="241" height="132.9" fill="none" stroke="#3fa3d0" stroke-width="1.3"/>
<text x="237.40" y="600.20" font-size="11.5" fill="#2f96cc" stroke="#2f96cc" stroke-width="0.25">V3-V5</text>
<text font-size="8.9" text-anchor="end" fill="#1a1a1a" stroke="#1a1a1a" stroke-width="0.25" transform="translate(56.20,727.3) rotate(-90)">Dec</text>
<text font-size="8.9" text-anchor="end" fill="#1a1a1a" stroke="#1a1a1a" stroke-width="0.25" transform="translate(72.22,727.3) rotate(-90)">Jan</text>
<text font-size="8.9" text-anchor="end" fill="#1a1a1a" stroke="#1a1a1a" stroke-width="0.25" transform="translate(88.24,727.3) rotate(-90)">Feb</text>
<text font-size="8.9" text-anchor="end" fill="#1a1a1a" stroke="#1a1a1a" stroke-width="0.25" transform="translate(104.26,727.3) rotate(-90)">Mar</text>
<text font-size="8.9" text-anchor="end" fill="#1a1a1a" stroke="#1a1a1a" stroke-width="0.25" transform="translate(120.28,727.3) rotate(-90)">Apr</text>
<text font-size="8.9" text-anchor="end" fill="#1a1a1a" stroke="#1a1a1a" stroke-width="0.25" transform="translate(136.30,727.3) rotate(-90)">May</text>
<text font-size="8.9" text-anchor="end" fill="#1a1a1a" stroke="#1a1a1a" stroke-width="0.25" transform="translate(152.32,727.3) rotate(-90)">June</text>
<text font-size="8.9" text-anchor="end" fill="#1a1a1a" stroke="#1a1a1a" stroke-width="0.25" transform="translate(168.34,727.3) rotate(-90)">July</text>
<text font-size="8.9" text-anchor="end" fill="#1a1a1a" stroke="#1a1a1a" stroke-width="0.25" transform="translate(184.36,727.3) rotate(-90)">Aug</text>
<text font-size="8.9" text-anchor="end" fill="#1a1a1a" stroke="#1a1a1a" stroke-width="0.25" transform="translate(200.38,727.3) rotate(-90)">Sep</text>
<text font-size="8.9" text-anchor="end" fill="#1a1a1a" stroke="#1a1a1a" stroke-width="0.25" transform="translate(216.40,727.3) rotate(-90)">Oct</text>
<text font-size="8.9" text-anchor="end" fill="#1a1a1a" stroke="#1a1a1a" stroke-width="0.25" transform="translate(232.42,727.3) rotate(-90)">Nov</text>
<text font-size="8.9" text-anchor="end" fill="#1a1a1a" stroke="#1a1a1a" stroke-width="0.25" transform="translate(248.44,727.3) rotate(-90)">Dec</text>
<text font-size="8.9" text-anchor="end" fill="#1a1a1a" stroke="#1a1a1a" stroke-width="0.25" transform="translate(264.46,727.3) rotate(-90)">Jan</text>
<text font-size="8.9" text-anchor="end" fill="#1a1a1a" stroke="#1a1a1a" stroke-width="0.25" transform="translate(280.48,727.3) rotate(-90)">Feb</text>
<text font-size="8.9" text-anchor="end" fill="#1a1a1a" stroke="#1a1a1a" stroke-width="0.25" transform="translate(296.50,727.3) rotate(-90)">Mar</text>
<text font-size="8.9" text-anchor="end" fill="#1a1a1a" stroke="#1a1a1a" stroke-width="0.25" transform="translate(312.52,727.3) rotate(-90)">Apr</text>
<text font-size="8.9" text-anchor="end" fill="#1a1a1a" stroke="#1a1a1a" stroke-width="0.25" transform="translate(328.54,727.3) rotate(-90)">May</text>
<text font-size="8.9" text-anchor="end" fill="#1a1a1a" stroke="#1a1a1a" stroke-width="0.25" transform="translate(344.56,727.3) rotate(-90)">June</text>
<text font-size="8.9" text-anchor="end" fill="#1a1a1a" stroke="#1a1a1a" stroke-width="0.25" transform="translate(360.58,727.3) rotate(-90)">July</text>
<text font-size="8.9" text-anchor="end" fill="#1a1a1a" stroke="#1a1a1a" stroke-width="0.25" transform="translate(376.60,727.3) rotate(-90)">Aug</text>
<text font-size="8.9" text-anchor="end" fill="#1a1a1a" stroke="#1a1a1a" stroke-width="0.25" transform="translate(392.62,727.3) rotate(-90)">Sep</text>
<text font-size="8.9" text-anchor="end" fill="#1a1a1a" stroke="#1a1a1a" stroke-width="0.25" transform="translate(408.64,727.3) rotate(-90)">Oct</text>
<text font-size="8.9" text-anchor="end" fill="#1a1a1a" stroke="#1a1a1a" stroke-width="0.25" transform="translate(424.66,727.3) rotate(-90)">Nov</text>
<text font-size="8.9" text-anchor="end" fill="#1a1a1a" stroke="#1a1a1a" stroke-width="0.25" transform="translate(440.68,727.3) rotate(-90)">Dec</text>
<text font-size="8.9" text-anchor="end" fill="#1a1a1a" stroke="#1a1a1a" stroke-width="0.25" transform="translate(456.70,727.3) rotate(-90)">Jan</text>
<text font-size="8.9" text-anchor="end" fill="#1a1a1a" stroke="#1a1a1a" stroke-width="0.25" transform="translate(472.72,727.3) rotate(-90)">Feb</text>
<line x1="45.00" y1="721.25" x2="45.00" y2="762.50" stroke="#dcdcdc" stroke-width="0.8"/>
<line x1="61.02" y1="721.25" x2="61.02" y2="762.50" stroke="#dcdcdc" stroke-width="0.8"/>
<line x1="253.26" y1="721.25" x2="253.26" y2="762.50" stroke="#dcdcdc" stroke-width="0.8"/>
<line x1="445.50" y1="721.25" x2="445.50" y2="762.50" stroke="#dcdcdc" stroke-width="0.8"/>
<line x1="477.54" y1="721.25" x2="477.54" y2="762.50" stroke="#dcdcdc" stroke-width="0.8"/>
<text x="53.01" y="761.69" font-size="8.9" text-anchor="middle" fill="#1a1a1a" stroke="#1a1a1a" stroke-width="0.25">2020</text>
<text x="157.14" y="761.69" font-size="8.9" text-anchor="middle" fill="#1a1a1a" stroke="#1a1a1a" stroke-width="0.25">2021</text>
<text x="349.38" y="761.69" font-size="8.9" text-anchor="middle" fill="#1a1a1a" stroke="#1a1a1a" stroke-width="0.25">2022</text>
<text x="461.52" y="761.69" font-size="8.9" text-anchor="middle" fill="#1a1a1a" stroke="#1a1a1a" stroke-width="0.25">2023</text>
</svg>
</body></html>
